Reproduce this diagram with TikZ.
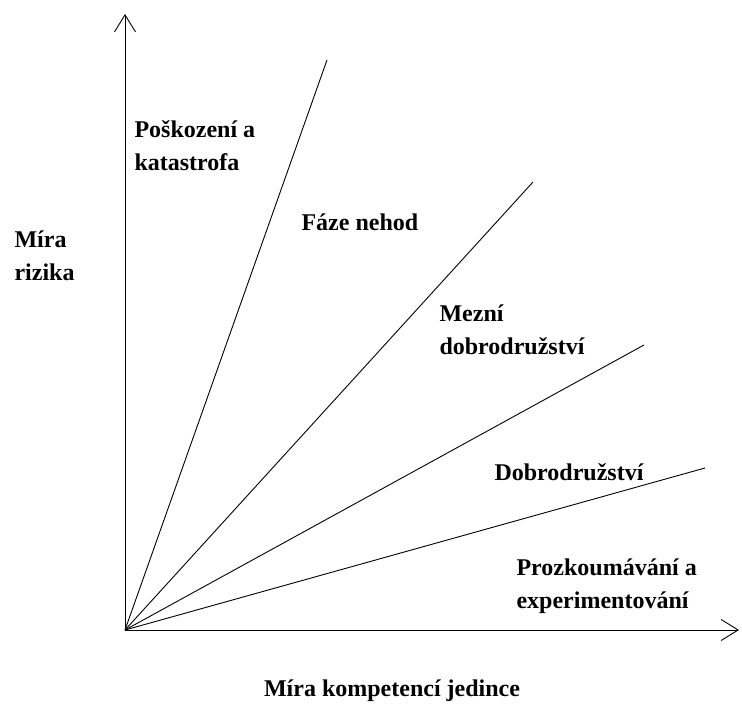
\documentclass[tikz,border=0pt]{standalone}
\usepackage{fontspec}
\setmainfont{Liberation Serif}
\usetikzlibrary{arrows.meta}

\tikzset{
	zona/.style={anchor=west, align=left, font=\fontsize{24}{33}\selectfont\bfseries},
	osa/.style={line width=0.9pt, -{Straight Barb[length=17pt,width=21pt]}},
	hranice/.style={line width=0.9pt}
}

\begin{document}
\begin{tikzpicture}[x=1pt,y=-1pt]
		\useasboundingbox (0,0) rectangle (742,704);

		\coordinate (O) at (125,630);
		\coordinate (Y) at (125,14);
		\coordinate (X) at (739,630);
		\draw[osa] (O) -- (Y);
		\draw[osa] (O) -- (X);

		\coordinate (A) at (327, 60);
		\coordinate (B) at (533,182);
		\coordinate (C) at (644,345);
		\coordinate (D) at (705,468);
		\draw[hranice] (O) -- (A);
		\draw[hranice] (O) -- (B);
		\draw[hranice] (O) -- (C);
		\draw[hranice] (O) -- (D);

		\node[zona] (katastrofa) at (131,146) {Poškození a\\katastrofa};
		\node[zona] (nehody)     at (298,222) {Fáze nehod};
		\node[zona] (mezni)      at (436,330) {Mezní\\dobrodružství};
		\node[zona] (dobro)      at (491,472) {Dobrodružství};
		\node[zona] (pruzkum)    at (513,586) {Prozkoumávání a\\experimentování};

		\node[zona] (riziko) at (11,256) {Míra\\rizika};
		\node[zona, anchor=center] (kompetence) at (392,691) {Míra kompetencí jedince};

	\end{tikzpicture}
\end{document}
